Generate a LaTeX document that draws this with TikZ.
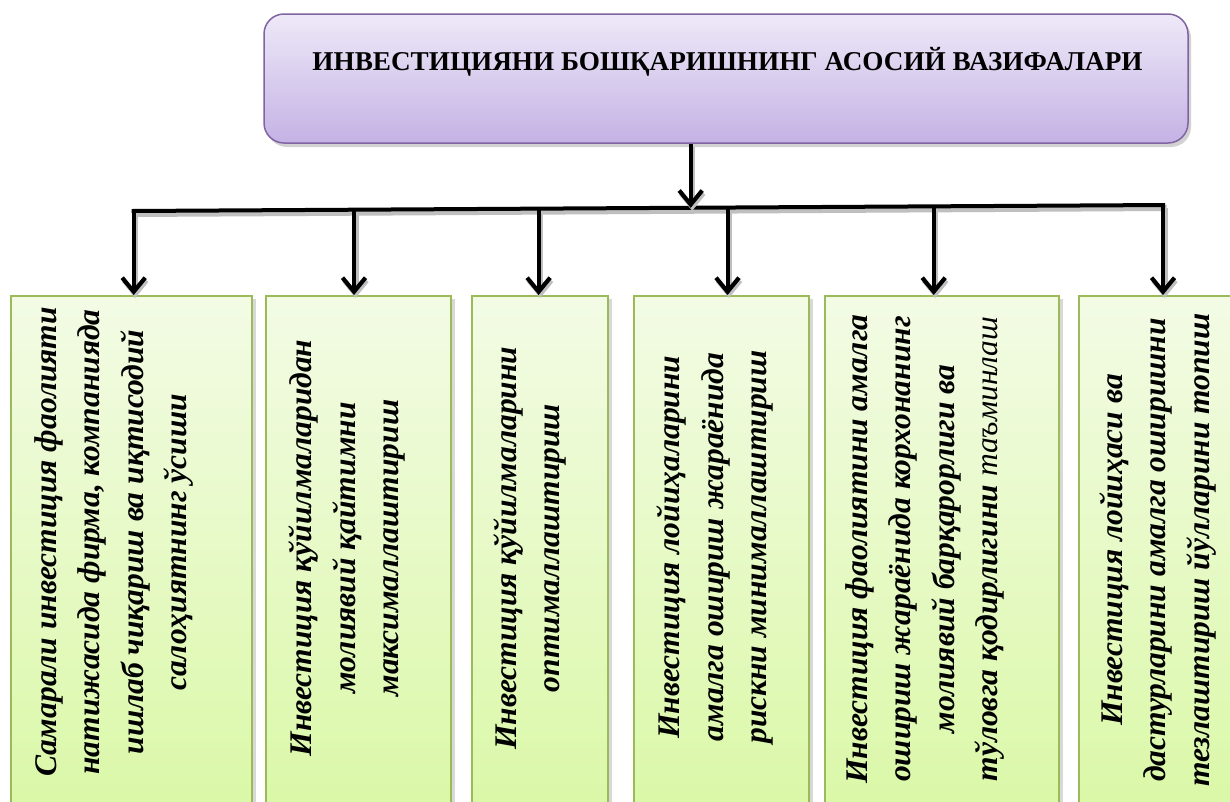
\documentclass[tikz,border=0pt]{standalone}
\usepackage{fontspec}
\setmainfont{Liberation Serif}
\usetikzlibrary{arrows.meta,shadows}
\definecolor{vbord}{HTML}{8064A2}
\definecolor{vtop}{HTML}{EEE9F8}
\definecolor{vbot}{HTML}{C4B2E4}
\definecolor{gbord}{HTML}{9BBB59}
\definecolor{gtop}{HTML}{F3FBE5}
\definecolor{gbot}{HTML}{D9F8A4}
\begin{document}
\begin{tikzpicture}[x=1pt,y=-1pt,
  conn/.style={line width=4pt, line cap=butt, black,
    preaction={draw=black!25, line width=6pt, transform canvas={xshift=1.5pt,yshift=-3pt}}},
  arr/.style={conn, -{Straight Barb[length=14pt,width=23pt,line width=4.2pt]}},
  titlebox/.style={draw=vbord, line width=1.5pt, rounded corners=20pt,
    top color=vtop, bottom color=vbot, minimum width=924pt, minimum height=129pt,
    inner sep=0pt, drop shadow={shadow xshift=3pt, shadow yshift=-4pt, opacity=0.35}},
  gbox/.style={draw=gbord, line width=1.5pt, top color=gtop, bottom color=gbot,
    anchor=north west, minimum height=540pt, inner sep=0pt,
    drop shadow={shadow xshift=4pt, shadow yshift=-3pt, opacity=0.3}},
  vtext/.style={rotate=90, align=center, inner sep=0pt,
    font=\fontsize{31.5}{43.5}\selectfont\bfseries\itshape},
]
\useasboundingbox (0,0) rectangle (1230,801);
\clip (0,0) rectangle (1230,801);
\fill[white] (0,0) rectangle (1230,801);

% title
\node[titlebox] (title) at (726,78.5) {};
\node[inner sep=0pt, font=\fontsize{27.2}{30}\selectfont\bfseries] (ttl) at (727.5,62)
  {ИНВЕСТИЦИЯНИ БОШҚАРИШНИНГ АСОСИЙ ВАЗИФАЛАРИ};

% boxes
\node[gbox, minimum width=241pt] (b1) at (10,295) {};
\node[gbox, minimum width=185pt] (b2) at (265,295) {};
\node[gbox, minimum width=136pt] (b3) at (471,295) {};
\node[gbox, minimum width=175pt] (b4) at (633,295) {};
\node[gbox, minimum width=234pt] (b5) at (824,295) {};
\node[gbox, minimum width=170pt] (b6) at (1078,295) {};

% bus coordinates
\coordinate (bL) at (131.7,211);
\coordinate (bR) at (1165,205);
\coordinate (j0) at (690.7,207.8);
\coordinate (j1) at (133.7,211);
\coordinate (j2) at (354,209.7);
\coordinate (j3) at (538.6,208.6);
\coordinate (j4) at (727.5,207.5);
\coordinate (j5) at (933.7,206.3);
\coordinate (j6) at (1163,205);

\draw[conn] (bL) -- (bR);
\draw[arr] (title.south -| j0) -- (j0);
\draw[arr] (j1) -- (j1 |- b1.north);
\draw[arr] (j2) -- (j2 |- b2.north);
\draw[arr] (j3) -- (j3 |- b3.north);
\draw[arr] (j4) -- (j4 |- b4.north);
\draw[arr] (j5) -- (j5 |- b5.north);
\draw[arr] (j6) -- (j6 |- b6.north);

% texts
\node[vtext] (t1) at (114,542) {Самарали инвестиция фаолияти\\натижасида фирма, компанияда\\ишлаб чиқариш ва иқтисодий\\салоҳиятнинг ўсиши};
\node[vtext] (t2) at (347,548) {Инвестиция қўйилмаларидан\\молиявий қайтимни\\максималлаштириш};
\node[vtext] (t3) at (530,548) {Инвестиция қўйилмаларини\\оптималлаштириш};
\node[vtext] (t4) at (715,547) {Инвестиция лойиҳаларини\\амалга ошириш жараёнида\\рискни минималлаштириш};
\node[vtext] (t5) at (925,549) {Инвестиция фаолиятини амалга\\ошириш жараёнида корхонанинг\\молиявий барқарорлиги ва\\тўловга қодирлигини {\mdseries таъминлаш}};
\node[vtext] (t6) at (1158,550) {Инвестиция лойиҳаси ва\\дастурларини амалга оширишни\\тезлаштириш йўлларини топиш};
\end{tikzpicture}
\end{document}
